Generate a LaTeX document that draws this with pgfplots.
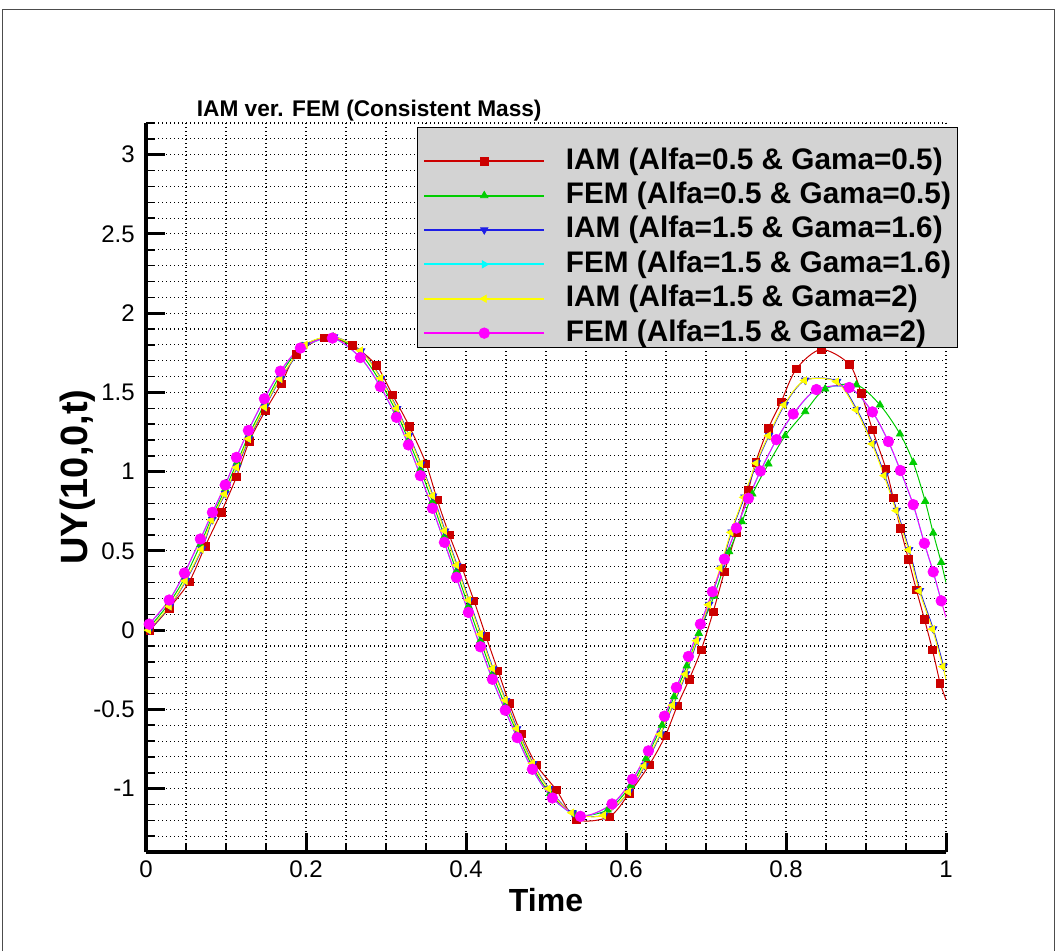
\documentclass[border=0pt]{standalone}
\usepackage{pgfplots}
\pgfplotsset{compat=1.18}
\usepackage{fontspec}
\setmainfont{Liberation Sans}
\definecolor{tpred}{RGB}{204,0,0}
\definecolor{tpgreen}{RGB}{0,205,0}
\definecolor{tpblue}{RGB}{30,30,230}
\definecolor{tpcyan}{RGB}{0,255,255}
\definecolor{tpyellow}{RGB}{255,255,0}
\definecolor{tpmag}{RGB}{255,0,255}
\definecolor{leggray}{RGB}{211,211,211}
\begin{document}
\begin{tikzpicture}[x=0.75pt,y=0.75pt]
\useasboundingbox (0,0) rectangle (1063,951);
\draw[gray!60!black, line width=1pt] (2.5,0) -- (2.5,941.5) -- (1054.5,941.5) -- (1054.5,0);
\begin{axis}[
  at={(109.5pt,74.25pt)}, anchor=south west,
  scale only axis, width=600pt, height=546.75pt,
  xmin=0, xmax=1, ymin=-1.4, ymax=3.2,
  axis x line*=bottom, axis y line*=left,
  axis line style={black, line width=2.5pt},
  xtick={0,0.2,0.4,0.6,0.8,1},
  xticklabels={0,0.2,0.4,0.6,0.8,1},
  minor xtick={0.05,0.1,0.15,0.25,0.3,0.35,0.45,0.5,0.55,0.65,0.7,0.75,0.85,0.9,0.95},
  ytick={-1,-0.5,0,0.5,1,1.5,2,2.5,3},
  yticklabels={-1,-0.5,0,0.5,1,1.5,2,2.5,3},
  minor ytick={-1.4,-1.3,-1.2,-1.1,-0.9,-0.8,-0.7,-0.6,-0.4,-0.3,-0.2,-0.1,0.1,0.2,0.3,0.4,0.6,0.7,0.8,0.9,1.1,1.2,1.3,1.4,1.6,1.7,1.8,1.9,2.1,2.2,2.3,2.4,2.6,2.7,2.8,2.9,3.1,3.2},
  tick align=inside,
  major tick length=14pt, minor tick length=6.5pt,
  major tick style={black, line width=2.25pt},
  minor tick style={black, line width=1.1pt},
  grid=both,
  major grid style={black, line width=0.8pt, dash pattern=on 0.8pt off 2.2pt},
  minor grid style={black, line width=0.8pt, dash pattern=on 0.8pt off 2.2pt},
  ticklabel style={font=\fontsize{18}{21}\selectfont},
  yticklabel style={xshift=-5pt},
  xticklabel style={yshift=-3pt},
  title={IAM ver. FEM (Consistent Mass)},
  title style={at={(0.279,1.0058)}, anchor=center, yshift=0pt, font=\bfseries\fontsize{17}{20}\selectfont},
  xlabel={Time},
  xlabel style={at={(0.5,-0.066)}, anchor=center, font=\bfseries\fontsize{24}{28}\selectfont},
  ylabel={UY(10,0,t)},
  ylabel style={at={(-0.086,0.5144)}, anchor=center, font=\bfseries\fontsize{28.5}{32}\selectfont},
  legend style={at={(0.33875,0.99451)}, anchor=north west, fill=leggray, draw=black,
    font=\bfseries\fontsize{22.3}{26}\selectfont,
    inner xsep=4.5pt, inner ysep=2.5pt, row sep=-5pt,
    nodes={inner sep=0pt, text height=28.9pt, text depth=1.9pt},
    /tikz/every odd column/.append style={column sep=15.5pt}},
  legend cell align=left,
  legend image code/.code={\draw[mark repeat=2,mark phase=2,#1,line width=1.5pt] plot coordinates {(0pt,-7.5pt) (45pt,-7.5pt) (90pt,-7.5pt)};},
]
% red IAM 0.5/0.5
\addplot[tpred, line width=0.75pt, smooth, tension=0.5, mark=square*, mark size=2.8pt, mark options={solid, fill=tpred, draw=tpred, line width=0.5pt}] coordinates {
(0.005,0.0) (0.029,0.139) (0.054,0.305) (0.074,0.53) (0.094,0.743) (0.113,0.966) (0.129,1.19) (0.149,1.383) (0.169,1.554) (0.188,1.739) (0.223,1.843) (0.258,1.796) (0.288,1.67) (0.308,1.486) (0.329,1.287) (0.350,1.051) (0.364,0.823) (0.379,0.602) (0.395,0.394) (0.41,0.185) (0.425,-0.04) (0.44,-0.257) (0.454,-0.461) (0.469,-0.655) (0.488,-0.851) (0.513,-1.009) (0.538,-1.194) (0.579,-1.177) (0.604,-1.03) (0.629,-0.851) (0.649,-0.668) (0.664,-0.478) (0.679,-0.31) (0.694,-0.124) (0.709,0.116) (0.723,0.368) (0.738,0.617) (0.753,0.883) (0.762,1.059) (0.778,1.274) (0.794,1.442) (0.813,1.649) (0.844,1.771) (0.879,1.678) (0.894,1.495) (0.908,1.265) (0.925,1.017) (0.934,0.834) (0.943,0.642) (0.953,0.448) (0.963,0.253) (0.973,0.069) (0.983,-0.124) (0.9925,-0.335)};
\addlegendentry{IAM (Alfa=0.5 \& Gama=0.5)}
% green FEM 0.5/0.5
\addplot[tpgreen, line width=0.75pt, smooth, tension=0.5, mark=triangle*, mark size=3.2pt, mark options={solid, fill=tpgreen, draw=tpgreen, line width=0.5pt}] coordinates {
(0.003,0.01) (0.029,0.17) (0.049,0.335) (0.068,0.54) (0.083,0.72) (0.099,0.89) (0.114,1.06) (0.129,1.235) (0.149,1.435) (0.168,1.61) (0.195,1.79) (0.234,1.85) (0.268,1.745) (0.293,1.565) (0.313,1.375) (0.328,1.20) (0.343,1.015) (0.358,0.81) (0.373,0.592) (0.388,0.372) (0.403,0.152) (0.418,-0.065) (0.433,-0.275) (0.449,-0.475) (0.464,-0.65) (0.483,-0.86) (0.505,-1.03) (0.537,-1.165) (0.577,-1.135) (0.606,-0.98) (0.625,-0.81) (0.645,-0.60) (0.660,-0.42) (0.676,-0.225) (0.691,-0.02) (0.71,0.215) (0.729,0.495) (0.745,0.684) (0.758,0.859) (0.778,1.049) (0.799,1.227) (0.824,1.379) (0.849,1.522) (0.888,1.548) (0.9175,1.421) (0.9425,1.238) (0.959,1.059) (0.974,0.813) (0.984,0.613) (0.994,0.428)};
\addlegendentry{FEM (Alfa=0.5 \& Gama=0.5)}
% blue IAM 1.5/1.6
\addplot[tpblue, line width=0.75pt, smooth, tension=0.5, mark=triangle*, mark size=3.2pt, mark options={solid, rotate=180, fill=tpblue, draw=tpblue, line width=0.5pt}] coordinates {
(0.004,0.0) (0.030,0.152) (0.050,0.312) (0.070,0.512) (0.083,0.697) (0.099,0.861) (0.114,1.029) (0.129,1.209) (0.149,1.409) (0.1685,1.587) (0.200,1.80) (0.235,1.85) (0.269,1.762) (0.294,1.588) (0.314,1.398) (0.329,1.228) (0.344,1.047) (0.359,0.846) (0.374,0.625) (0.389,0.408) (0.404,0.188) (0.419,-0.027) (0.434,-0.244) (0.450,-0.444) (0.464,-0.623) (0.484,-0.842) (0.504,-1.0) (0.533,-1.152) (0.5727,-1.167) (0.604,-1.019) (0.6235,-0.855) (0.6435,-0.655) (0.659,-0.472) (0.675,-0.276) (0.689,-0.065) (0.704,0.162) (0.7185,0.392) (0.732,0.619) (0.748,0.840) (0.7635,1.055) (0.779,1.229) (0.7985,1.423) (0.824,1.577) (0.864,1.570) (0.8885,1.392) (0.9085,1.177) (0.9235,0.977) (0.9385,0.756) (0.954,0.509) (0.9675,0.250) (0.984,0.008) (0.997,-0.228)};
\addlegendentry{IAM (Alfa=1.5 \& Gama=1.6)}
% cyan FEM 1.5/1.6
\addplot[tpcyan, line width=0.75pt, smooth, tension=0.5, mark=triangle*, mark size=3.2pt, mark options={solid, rotate=-90, fill=tpcyan, draw=tpcyan, line width=0.5pt}] coordinates {
(0.004,0.036) (0.029,0.188) (0.048,0.358) (0.068,0.573) (0.083,0.741) (0.099,0.914) (0.113,1.088) (0.128,1.258) (0.148,1.458) (0.168,1.632) (0.193,1.778) (0.233,1.841) (0.268,1.718) (0.293,1.535) (0.313,1.341) (0.328,1.167) (0.343,0.973) (0.358,0.767) (0.373,0.552) (0.388,0.331) (0.403,0.110) (0.418,-0.107) (0.433,-0.312) (0.449,-0.507) (0.464,-0.680) (0.483,-0.880) (0.508,-1.061) (0.543,-1.177) (0.5825,-1.099) (0.608,-0.943) (0.628,-0.764) (0.648,-0.545) (0.663,-0.364) (0.678,-0.168) (0.693,0.036) (0.708,0.240) (0.723,0.446) (0.738,0.642) (0.753,0.830) (0.768,1.002) (0.788,1.200) (0.809,1.362) (0.838,1.516) (0.879,1.529) (0.908,1.375) (0.928,1.188) (0.943,1.005) (0.959,0.790) (0.973,0.546) (0.984,0.366) (0.994,0.183)};
\addlegendentry{FEM (Alfa=1.5 \& Gama=1.6)}
% yellow IAM 1.5/2
\addplot[tpyellow, line width=0.75pt, smooth, tension=0.5, mark=triangle*, mark size=3.2pt, mark options={solid, rotate=90, fill=tpyellow, draw=tpyellow, line width=0.5pt}] coordinates {
(0.003,0.0) (0.029,0.15) (0.049,0.31) (0.069,0.51) (0.082,0.695) (0.098,0.859) (0.113,1.027) (0.128,1.207) (0.148,1.407) (0.1675,1.585) (0.199,1.80) (0.234,1.85) (0.268,1.764) (0.293,1.59) (0.313,1.40) (0.328,1.23) (0.343,1.049) (0.358,0.848) (0.373,0.627) (0.388,0.41) (0.403,0.19) (0.418,-0.025) (0.433,-0.242) (0.449,-0.442) (0.463,-0.621) (0.483,-0.84) (0.503,-1.0) (0.532,-1.152) (0.5717,-1.169) (0.603,-1.021) (0.6225,-0.857) (0.6425,-0.657) (0.658,-0.474) (0.674,-0.278) (0.688,-0.067) (0.703,0.16) (0.7175,0.39) (0.731,0.617) (0.747,0.838) (0.7625,1.053) (0.778,1.227) (0.7975,1.421) (0.823,1.575) (0.863,1.568) (0.8875,1.39) (0.9075,1.175) (0.9225,0.975) (0.9375,0.754) (0.953,0.507) (0.9665,0.248) (0.983,0.006) (0.996,-0.23)};
\addlegendentry{IAM (Alfa=1.5 \& Gama=2)}
% magenta FEM 1.5/2
\addplot[tpmag, line width=0.75pt, smooth, tension=0.5, mark=*, mark size=4pt, mark options={solid, fill=tpmag, draw=tpmag, line width=0.5pt}] coordinates {
(0.004,0.038) (0.029,0.19) (0.048,0.36) (0.068,0.575) (0.083,0.743) (0.099,0.916) (0.113,1.09) (0.128,1.26) (0.148,1.46) (0.168,1.634) (0.193,1.78) (0.233,1.843) (0.268,1.72) (0.293,1.537) (0.313,1.343) (0.328,1.169) (0.343,0.975) (0.358,0.769) (0.373,0.554) (0.388,0.333) (0.403,0.112) (0.418,-0.105) (0.433,-0.31) (0.449,-0.505) (0.464,-0.678) (0.483,-0.878) (0.508,-1.059) (0.543,-1.175) (0.5825,-1.097) (0.608,-0.941) (0.628,-0.762) (0.648,-0.543) (0.663,-0.362) (0.678,-0.166) (0.693,0.038) (0.708,0.242) (0.723,0.448) (0.738,0.644) (0.753,0.832) (0.768,1.004) (0.788,1.202) (0.809,1.364) (0.838,1.518) (0.879,1.531) (0.908,1.377) (0.928,1.19) (0.943,1.007) (0.959,0.792) (0.973,0.548) (0.984,0.368) (0.994,0.185)};
\addlegendentry{FEM (Alfa=1.5 \& Gama=2)}
% tails to the right edge
\addplot[forget plot, tpred, line width=0.75pt] coordinates {(0.9925,-0.335) (1.0,-0.44)};
\addplot[forget plot, tpgreen, line width=0.75pt] coordinates {(0.994,0.428) (1.0,0.30)};
\addplot[forget plot, tpyellow, line width=0.75pt] coordinates {(0.996,-0.23) (1.0,-0.31)};
\addplot[forget plot, tpmag, line width=0.75pt] coordinates {(0.994,0.185) (1.0,0.08)};
\end{axis}
\end{tikzpicture}
\end{document}
